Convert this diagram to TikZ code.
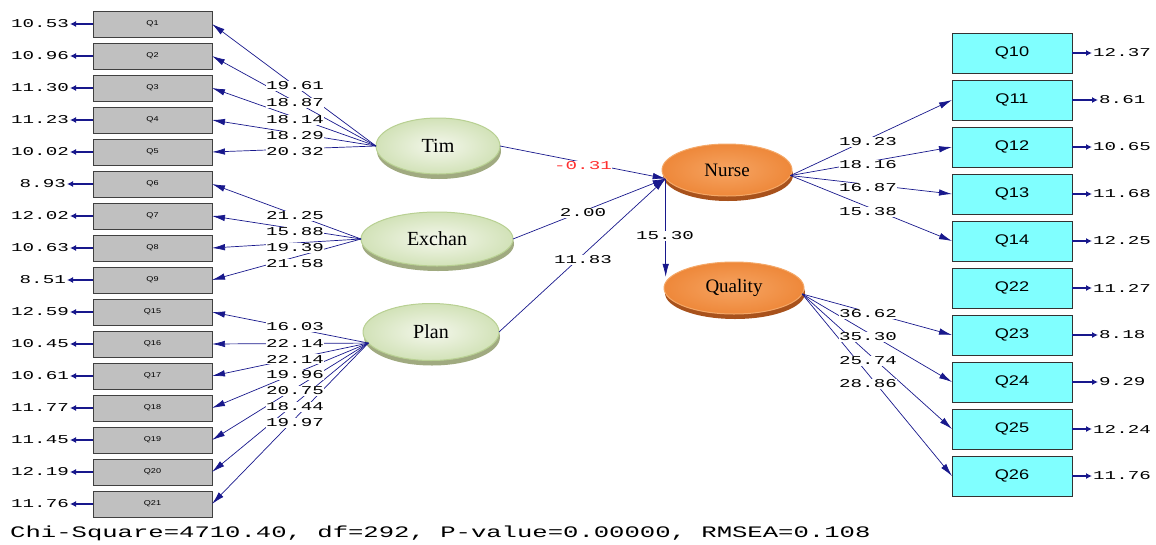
\documentclass[tikz,border=0pt]{standalone}
\usepackage{fontspec}
\setmainfont{Liberation Serif}
\newfontfamily\lisnum[FakeStretch=1.6]{Liberation Mono}
\newfontfamily\qfont[FakeStretch=1.3]{Liberation Sans}
\usepackage{tikz}
\usetikzlibrary{arrows.meta,positioning,shapes.geometric,shadows}
\definecolor{pathblue}{RGB}{24,24,140}
\definecolor{boxgray}{RGB}{192,192,192}
\definecolor{boxcyan}{RGB}{128,255,255}
\definecolor{estred}{RGB}{255,48,48}
\tikzset{
    lbox/.style={draw=black!75, fill=boxgray, line width=0.9pt, minimum width=119pt,
    minimum height=26pt, inner sep=0pt, outer sep=0pt, font=\qfont\fontsize{7}{7}\selectfont},
    rbox/.style={draw=black!80, fill=boxcyan, line width=0.9pt, minimum width=120pt,
    minimum height=40pt, inner sep=0pt, outer sep=0pt, font=\qfont\fontsize{14}{14}\selectfont},
    latx/.style={ellipse, draw={rgb,255:red,184;green,208;blue,146}, line width=1pt,
    inner color={rgb,255:red,244;green,247;blue,236}, outer color={rgb,255:red,210;green,226;blue,184},
    drop shadow={shadow xshift=1pt, shadow yshift=-5pt, fill={rgb,255:red,160;green,170;blue,128}, opacity=1},
    inner sep=0pt, outer sep=0pt, font=\fontsize{20}{20}\selectfont},
    laty/.style={ellipse, draw={rgb,255:red,244;green,168;blue,104}, line width=1pt,
    inner color={rgb,255:red,246;green,164;blue,98}, outer color={rgb,255:red,238;green,136;blue,58},
    drop shadow={shadow xshift=1pt, shadow yshift=-5pt, fill={rgb,255:red,168;green,82;blue,28}, opacity=1},
    inner sep=0pt, outer sep=0pt, font=\fontsize{19}{19}\selectfont},
    est/.style={fill=white, inner sep=0.5pt, font=\lisnum\fontsize{12}{12}\selectfont},
    errv/.style={inner sep=0pt, font=\lisnum\fontsize{12}{12}\selectfont},
}

\begin{document}
\begin{tikzpicture}[
        x=1pt, y=-1pt,
        load/.style={draw=pathblue, line width=0.7pt, -{Latex[length=13pt,width=6.5pt]}},
        err/.style={draw=pathblue, line width=1.6pt, shorten >=1pt, -{Latex[length=6pt,width=6pt]}}
    ]
    \useasboundingbox (0,0) rectangle (1156,544);
    % observed variables, left column
    \node[lbox] (q1) at (152.5,24) {Q1};
    \node[lbox, below=6pt of q1] (q2) {Q2};
    \node[lbox, below=6pt of q2] (q3) {Q3};
    \node[lbox, below=6pt of q3] (q4) {Q4};
    \node[lbox, below=6pt of q4] (q5) {Q5};
    \node[lbox, below=6pt of q5] (q6) {Q6};
    \node[lbox, below=6pt of q6] (q7) {Q7};
    \node[lbox, below=6pt of q7] (q8) {Q8};
    \node[lbox, below=6pt of q8] (q9) {Q9};
    \node[lbox, below=6pt of q9] (q15) {Q15};
    \node[lbox, below=6pt of q15] (q16) {Q16};
    \node[lbox, below=6pt of q16] (q17) {Q17};
    \node[lbox, below=6pt of q17] (q18) {Q18};
    \node[lbox, below=6pt of q18] (q19) {Q19};
    \node[lbox, below=6pt of q19] (q20) {Q20};
    \node[lbox, below=6pt of q20] (q21) {Q21};
    % observed variables, right column
    \node[rbox] (q10) at (1012,53) {Q10};
    \node[rbox, below=7pt of q10] (q11) {Q11};
    \node[rbox, below=7pt of q11] (q12) {Q12};
    \node[rbox, below=7pt of q12] (q13) {Q13};
    \node[rbox, below=7pt of q13] (q14) {Q14};
    \node[rbox, below=7pt of q14] (q22) {Q22};
    \node[rbox, below=7pt of q22] (q23) {Q23};
    \node[rbox, below=7pt of q23] (q24) {Q24};
    \node[rbox, below=7pt of q24] (q25) {Q25};
    \node[rbox, below=7pt of q25] (q26) {Q26};
    % latent variables
    \node[latx, minimum width=124pt, minimum height=56pt] (tim) at (438,146) {Tim};
    \node[latx, minimum width=152pt, minimum height=54pt] (exchan) at (437,239) {Exchan};
    \node[latx, minimum width=136pt, minimum height=57pt] (plan) at (431,332) {Plan};
    \node[laty, minimum width=130pt, minimum height=52pt] (nurse) at (727,170) {Nurse};
    \node[laty, minimum width=140pt, minimum height=52pt] (quality) at (734,288) {Quality};
    % error variances, left
    \node[errv, anchor=east] (e1) at (69,24) {10.53};
    \node[errv, anchor=east] (e2) at (69,56) {10.96};
    \node[errv, anchor=east] (e3) at (69,88) {11.30};
    \node[errv, anchor=east] (e4) at (69,120) {11.23};
    \node[errv, anchor=east] (e5) at (69,152) {10.02};
    \node[errv, anchor=east] (e6) at (66,184) {8.93};
    \node[errv, anchor=east] (e7) at (69,216) {12.02};
    \node[errv, anchor=east] (e8) at (69,248) {10.63};
    \node[errv, anchor=east] (e9) at (66,280) {8.51};
    \node[errv, anchor=east] (e15) at (69,312) {12.59};
    \node[errv, anchor=east] (e16) at (69,344) {10.45};
    \node[errv, anchor=east] (e17) at (69,376) {10.61};
    \node[errv, anchor=east] (e18) at (69,408) {11.77};
    \node[errv, anchor=east] (e19) at (69,440) {11.45};
    \node[errv, anchor=east] (e20) at (69,472) {12.19};
    \node[errv, anchor=east] (e21) at (69,504) {11.76};
    \foreach \q in {1,...,9,15,16,...,21}
        \draw[err] (q\q.west) -- (e\q.east);
    % error variances, right
    \node[errv, anchor=west] (e10) at (1093,53) {12.37};
    \node[errv, anchor=west] (e11) at (1099,100) {8.61};
    \node[errv, anchor=west] (e12) at (1093,147) {10.65};
    \node[errv, anchor=west] (e13) at (1093,194) {11.68};
    \node[errv, anchor=west] (e14) at (1093,241) {12.25};
    \node[errv, anchor=west] (e22) at (1093,288) {11.27};
    \node[errv, anchor=west] (e23) at (1099,335) {8.18};
    \node[errv, anchor=west] (e24) at (1099,382) {9.29};
    \node[errv, anchor=west] (e25) at (1093,429) {12.24};
    \node[errv, anchor=west] (e26) at (1093,476) {11.76};
    \foreach \q in {10,11,12,13,14,22,23,24,25,26}
        \draw[err] (q\q.east) -- (e\q.west);
    % loadings
    \draw[load] (tim.west) -- (q1.east);
    \draw[load] (tim.west) -- (q2.east);
    \draw[load] (tim.west) -- (q3.east);
    \draw[load] (tim.west) -- (q4.east);
    \draw[load] (tim.west) -- (q5.east);
    \draw[load] (exchan.west) -- (q6.east);
    \draw[load] (exchan.west) -- (q7.east);
    \draw[load] (exchan.west) -- (q8.east);
    \draw[load] (exchan.west) -- (q9.east);
    \draw[load] (plan.190) -- (q15.east);
    \draw[load] (plan.190) -- (q16.east);
    \draw[load] (plan.190) -- (q17.east);
    \draw[load] (plan.190) -- (q18.east);
    \draw[load] (plan.190) -- (q19.east);
    \draw[load] (plan.190) -- (q20.east);
    \draw[load] (plan.190) -- (q21.east);
    \draw[load] (nurse.355) -- (q11.west);
    \draw[load] (nurse.355) -- (q12.west);
    \draw[load] (nurse.355) -- (q13.west);
    \draw[load] (nurse.355) -- (q14.west);
    \draw[load] (quality.355) -- (q23.west);
    \draw[load] (quality.355) -- (q24.west);
    \draw[load] (quality.355) -- (q25.west);
    \draw[load] (quality.355) -- (q26.west);
    % structural paths
    \draw[load] (tim.east) -- (nurse.188);
    \draw[load] (exchan.east) -- (nurse.188);
    \draw[load] (plan.east) -- (nurse.188);
    \draw[load] (nurse.188) -- (nurse.188 |- quality.170);
    % estimates
    \node[est] (l1) at (295,86) {19.61};
    \node[est] (l2) at (295,103) {18.87};
    \node[est] (l3) at (295,120) {18.14};
    \node[est] (l4) at (295,136) {18.29};
    \node[est] (l5) at (295,152) {20.32};
    \node[est] (l6) at (295,216) {21.25};
    \node[est] (l7) at (295,232) {15.88};
    \node[est] (l8) at (295,248) {19.39};
    \node[est] (l9) at (295,264) {21.58};
    \node[est] (l15) at (295,327) {16.03};
    \node[est] (l16) at (295,343) {22.14};
    \node[est] (l17) at (295,359) {22.14};
    \node[est] (l18) at (295,375) {19.96};
    \node[est] (l19) at (295,391) {20.75};
    \node[est] (l20) at (295,407) {18.44};
    \node[est] (l21) at (295,423) {19.97};
    \node[est] (l11) at (868,142) {19.23};
    \node[est] (l12) at (868,165) {18.16};
    \node[est] (l13) at (868,188) {16.87};
    \node[est] (l14) at (868,212) {15.38};
    \node[est] (l23) at (868,314) {36.62};
    \node[est] (l24) at (868,337) {35.30};
    \node[est] (l25) at (868,361) {25.74};
    \node[est] (l26) at (868,384) {28.86};
    \node[est, text=estred] (s1) at (583,166) {-0.31};
    \node[est] (s2) at (583,213) {2.00};
    \node[est] (s3) at (583,260) {11.83};
    \node[est] (s4) at (665,236) {15.30};
    % fit statistics
    \node[anchor=west, inner sep=0pt, font=\lisnum\fontsize{16}{16}\selectfont] (fit) at (10,533)
        {Chi-Square=4710.40, df=292, P-value=0.00000, RMSEA=0.108};
\end{tikzpicture}
\end{document}
